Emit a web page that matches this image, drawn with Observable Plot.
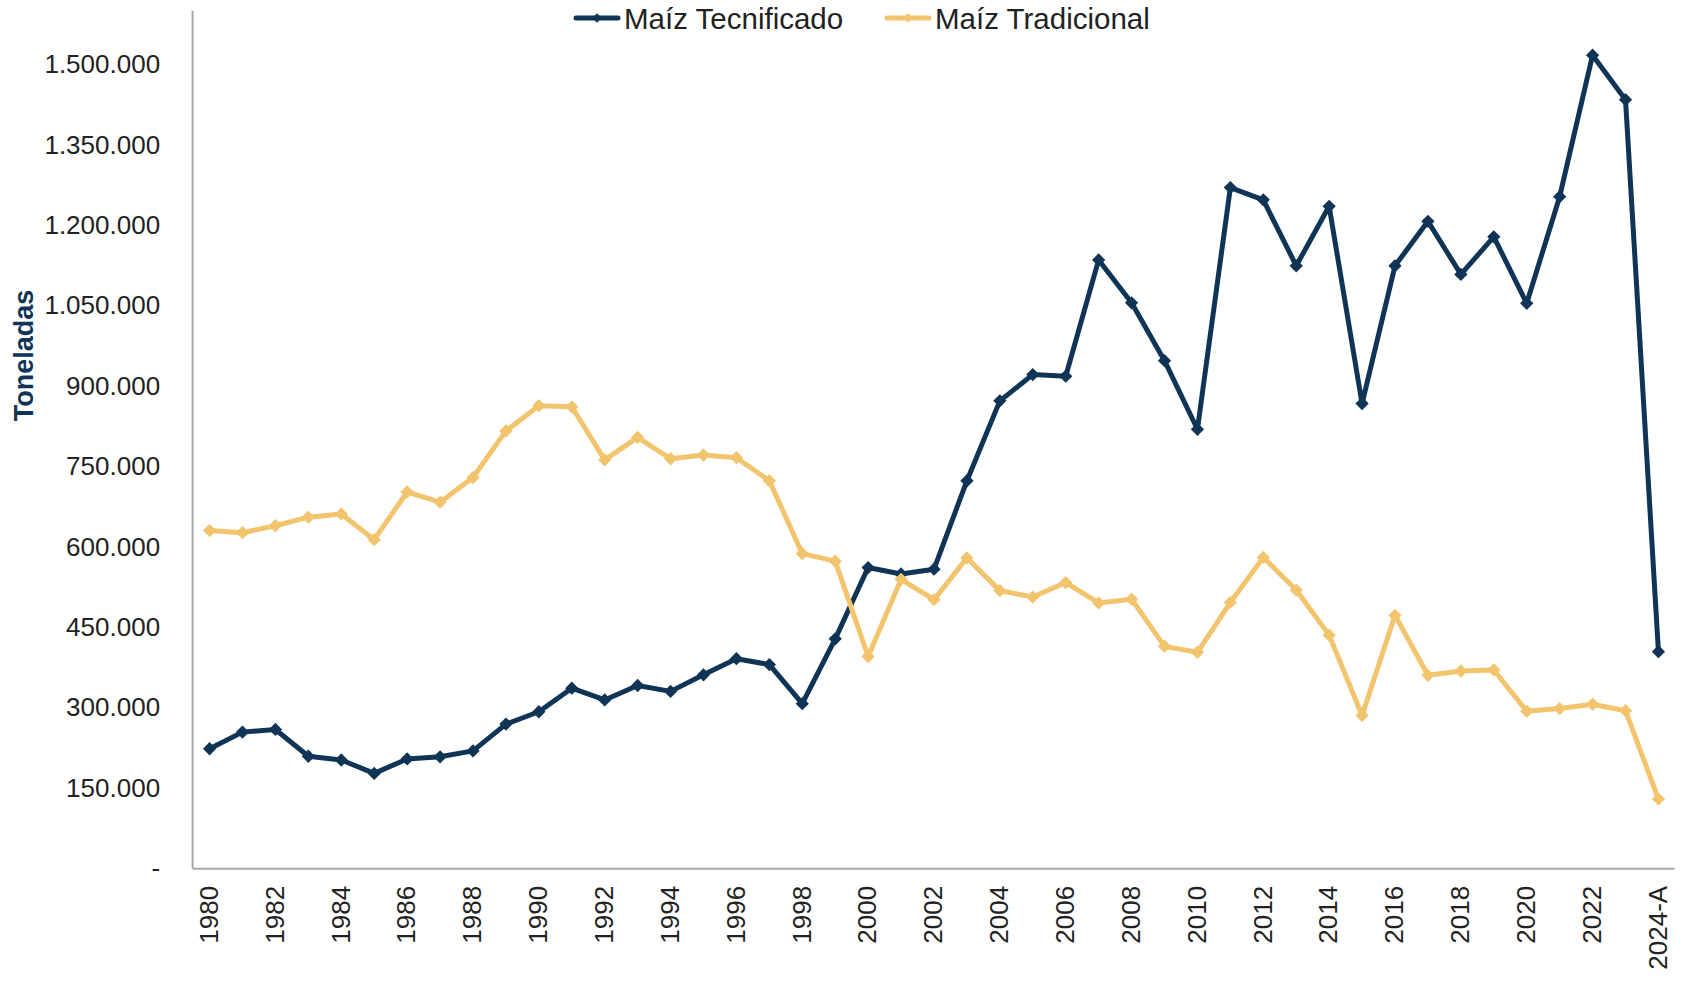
<!DOCTYPE html>
<html>
<head>
<meta charset="utf-8">
<script src="https://cdn.jsdelivr.net/npm/d3@7"></script>
<script src="https://cdn.jsdelivr.net/npm/@observablehq/plot@0.6"></script>
<style>
  html, body { margin: 0; padding: 0; background: #fff; overflow: hidden; }
  #wrap { position: relative; width: 1687px; height: 982px; font-family: "Liberation Sans", Arial, sans-serif; }
  #wrap svg { display: block; }
  .leg { position: absolute; top: 3.5px; display: flex; align-items: center; height: 29px; font-size: 29.5px; line-height: 29px; color: #222; white-space: nowrap; }
  .leg svg { margin-right: 3px; }
</style>
</head>
<body>
<div id="wrap"></div>
<script>
const years = ["1980","1981","1982","1983","1984","1985","1986","1987","1988","1989",
  "1990","1991","1992","1993","1994","1995","1996","1997","1998","1999",
  "2000","2001","2002","2003","2004","2005","2006","2007","2008","2009",
  "2010","2011","2012","2013","2014","2015","2016","2017","2018","2019",
  "2020","2021","2022","2023","2024-A"];
const tecnificado = [224000,255000,260000,210000,203000,178000,205000,209000,220000,270000,
  293000,337000,315000,342000,331000,362000,392000,381000,308000,429000,
  562000,550000,559000,724000,873000,922000,919000,1136000,1056000,948000,
  820000,1271000,1248000,1125000,1236000,868000,1125000,1208000,1109000,1179000,
  1055000,1254000,1518000,1435000,405000];
const tradicional = [631000,627000,640000,656000,662000,614000,703000,684000,730000,817000,
  864000,862000,763000,805000,765000,772000,767000,724000,588000,574000,
  396000,540000,502000,580000,519000,507000,534000,496000,503000,415000,
  404000,497000,581000,520000,436000,286000,473000,361000,369000,371000,
  294000,299000,307000,295000,130000];
const series = ["Maíz Tecnificado", "Maíz Tradicional"];
const colors = ["#0f3455", "#f2c46d"];
const yTicks = [0,150000,300000,450000,600000,750000,900000,1050000,1200000,1350000,1500000];
const xTickLabels = years.filter((y, i) => i % 2 === 0);
const yTitle = "Toneladas";

const data = years.flatMap((y, i) => [
  {year: y, serie: series[0], value: tecnificado[i]},
  {year: y, serie: series[1], value: tradicional[i]}
]);

const fmt = d => d === 0 ? "-" : String(d).replace(/\B(?=(\d{3})+(?!\d))/g, ".");

const seriesMarks = series.flatMap(s => [
  Plot.line(data.filter(d => d.serie === s), {x: "year", y: "value", stroke: "serie", strokeWidth: 5, strokeLinejoin: "round"}),
  Plot.dot(data.filter(d => d.serie === s), {x: "year", y: "value", fill: "serie", symbol: "square", rotate: 45, r: 5.3})
]);

const chart = Plot.plot({
  width: 1687,
  height: 982,
  marginLeft: 192.6,
  marginRight: 12.6,
  marginTop: 10.7,
  marginBottom: 113.7,
  style: {fontFamily: "'Liberation Sans', Arial, sans-serif", fontSize: "26px", color: "#222", background: "#fff"},
  x: {type: "point", domain: years, padding: 0.5, label: null},
  y: {domain: [0, 1600000], label: null},
  color: {domain: series, range: colors},
  marks: [
    Plot.axisY({ticks: yTicks, tickSize: 0, tickPadding: 33, tickFormat: fmt, fontSize: 26, label: null, fill: "#222"}),
    Plot.axisX({ticks: xTickLabels, tickSize: 0, tickPadding: 17, tickRotate: -90, fontSize: 26, label: null, fill: "#222"}),
    Plot.ruleY([0], {stroke: "#a6a6a6", strokeWidth: 2}),
    Plot.text([yTitle], {frameAnchor: "left", textAnchor: "middle", rotate: -90, dx: -169, dy: -84.5, fontSize: 27, fontWeight: "bold", fill: "#0f3455"}),
    ...seriesMarks
  ]
});

// left axis line drawn from the library's own scales
const sx = chart.scale("x"), sy = chart.scale("y");
d3.select(chart).append("line")
  .attr("x1", sx.range[0]).attr("x2", sx.range[0])
  .attr("y1", sy.range[0]).attr("y2", sy.range[1])
  .attr("stroke", "#a6a6a6").attr("stroke-width", 2)
  .lower();

const wrap = document.getElementById("wrap");
wrap.appendChild(chart);

// legend
const legLeft = [573, 884];
series.forEach((s, i) => {
  const div = document.createElement("div");
  div.className = "leg";
  div.style.left = legLeft[i] + "px";
  div.innerHTML = `<svg width="48" height="16" viewBox="0 0 48 16"><line x1="3" x2="45" y1="8" y2="8" stroke="${colors[i]}" stroke-width="5" stroke-linecap="round"/><rect x="20.6" y="4.6" width="6.8" height="6.8" fill="${colors[i]}" transform="rotate(45 24 8)"/></svg><span>${s}</span>`;
  wrap.appendChild(div);
});
</script>
</body>
</html>
